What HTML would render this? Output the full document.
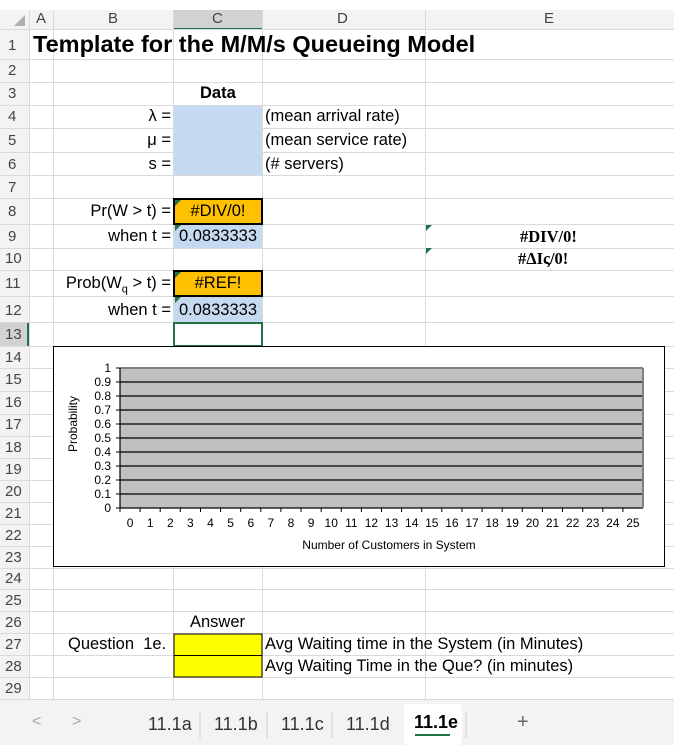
<!DOCTYPE html>
<html><head><meta charset="utf-8"><style>
body{margin:0;width:674px;height:745px;background:#fff;position:relative;overflow:hidden;font-family:"Liberation Sans",Arial,sans-serif;color:#000}
.a{position:absolute;white-space:nowrap}
.t{font-size:16.5px}
</style></head><body>
<svg class="a" style="left:0;top:0" width="674" height="745">
<rect x="0" y="0" width="674" height="10" fill="#fff"/>
<rect x="0" y="10" width="674" height="20" fill="#f3f3f3"/>
<rect x="0" y="10" width="29" height="690" fill="#f3f3f3"/>
<rect x="173" y="10" width="89" height="20" fill="#d2d2d2"/>
<line x1="173" y1="29" x2="262" y2="29" stroke="#217346" stroke-width="2"/>
<rect x="0" y="322" width="29" height="24" fill="#d2d2d2"/>
<line x1="28" y1="322" x2="28" y2="346" stroke="#217346" stroke-width="2"/>
<polygon points="14,26 25,26 25,15" fill="#b0b0b0"/>
<g stroke="#dadada" stroke-width="1">
<line x1="29.5" y1="10" x2="29.5" y2="700"/>
<line x1="53.5" y1="10" x2="53.5" y2="700"/>
<line x1="173.5" y1="10" x2="173.5" y2="700"/>
<line x1="262.5" y1="10" x2="262.5" y2="700"/>
<line x1="425.5" y1="10" x2="425.5" y2="700"/>
<line x1="0" y1="29.5" x2="674" y2="29.5"/>
<line x1="0" y1="59.5" x2="674" y2="59.5"/><line x1="0" y1="82.5" x2="674" y2="82.5"/>
<line x1="0" y1="105.5" x2="674" y2="105.5"/><line x1="0" y1="128.5" x2="674" y2="128.5"/>
<line x1="0" y1="152.5" x2="674" y2="152.5"/><line x1="0" y1="175.5" x2="674" y2="175.5"/>
<line x1="0" y1="198.5" x2="674" y2="198.5"/><line x1="0" y1="224.5" x2="674" y2="224.5"/>
<line x1="0" y1="248.5" x2="674" y2="248.5"/><line x1="0" y1="270.5" x2="674" y2="270.5"/>
<line x1="0" y1="296.5" x2="674" y2="296.5"/><line x1="0" y1="322.5" x2="674" y2="322.5"/>
<line x1="0" y1="346.5" x2="674" y2="346.5"/><line x1="0" y1="368.5" x2="674" y2="368.5"/>
<line x1="0" y1="391.5" x2="674" y2="391.5"/><line x1="0" y1="414.5" x2="674" y2="414.5"/>
<line x1="0" y1="436.5" x2="674" y2="436.5"/><line x1="0" y1="458.5" x2="674" y2="458.5"/>
<line x1="0" y1="480.5" x2="674" y2="480.5"/><line x1="0" y1="502.5" x2="674" y2="502.5"/>
<line x1="0" y1="524.5" x2="674" y2="524.5"/><line x1="0" y1="546.5" x2="674" y2="546.5"/>
<line x1="0" y1="568.5" x2="674" y2="568.5"/><line x1="0" y1="589.5" x2="674" y2="589.5"/>
<line x1="0" y1="611.5" x2="674" y2="611.5"/><line x1="0" y1="633.5" x2="674" y2="633.5"/>
<line x1="0" y1="655.5" x2="674" y2="655.5"/><line x1="0" y1="677.5" x2="674" y2="677.5"/>
<line x1="0" y1="699.5" x2="674" y2="699.5"/>
</g>
<rect x="174" y="106" width="88" height="69" fill="#c5d9f1"/>
<rect x="174" y="225" width="88" height="23" fill="#c5d9f1"/>
<rect x="174" y="297" width="88" height="25" fill="#c5d9f1"/>
<rect x="174" y="199" width="88" height="25" fill="#ffc000" stroke="#000" stroke-width="2"/>
<rect x="174" y="271" width="88" height="25" fill="#ffc000" stroke="#000" stroke-width="2"/>
<rect x="174" y="323" width="88" height="23" fill="#fff" stroke="#217346" stroke-width="2"/>
<polygon points="175,200 181,200 175,206" fill="#217346"/>
<polygon points="175,272 181,272 175,278" fill="#217346"/>
<polygon points="175,225 181,225 175,231" fill="#217346"/>
<polygon points="175,297 181,297 175,303" fill="#217346"/>
<polygon points="426,225 432,225 426,231" fill="#217346"/>
<polygon points="426,248 432,248 426,254" fill="#217346"/>
<rect x="174" y="634" width="88" height="43" fill="#ffff00" stroke="#000" stroke-width="1"/>
<line x1="174" y1="655.5" x2="262" y2="655.5" stroke="#000"/>
<rect x="53.5" y="346.5" width="611" height="220" fill="#fff" stroke="#000"/>
<rect x="120" y="368" width="523" height="140" fill="#c0c0c0"/>
<g stroke="#000" stroke-width="1.2">
<line x1="120" y1="368" x2="643" y2="368" stroke="#808080" stroke-width="2"/>
<line x1="120" y1="382" x2="643" y2="382"/><line x1="120" y1="396" x2="643" y2="396"/>
<line x1="120" y1="410" x2="643" y2="410"/><line x1="120" y1="424" x2="643" y2="424"/>
<line x1="120" y1="438" x2="643" y2="438"/><line x1="120" y1="452" x2="643" y2="452"/>
<line x1="120" y1="466" x2="643" y2="466"/><line x1="120" y1="480" x2="643" y2="480"/>
<line x1="120" y1="494" x2="643" y2="494"/>
<line x1="120" y1="508" x2="643" y2="508"/>
<line x1="120" y1="368" x2="120" y2="508"/>
</g>
<rect x="642" y="368" width="2" height="140" fill="#808080"/>
<g font-family="Liberation Sans,Arial,sans-serif" font-size="12" text-anchor="end">
<text x="111" y="372">1</text><text x="111" y="386">0.9</text><text x="111" y="400">0.8</text>
<text x="111" y="414">0.7</text><text x="111" y="428">0.6</text><text x="111" y="442">0.5</text>
<text x="111" y="456">0.4</text><text x="111" y="470">0.3</text><text x="111" y="484">0.2</text>
<text x="111" y="498">0.1</text><text x="111" y="512">0</text>
</g>
<g stroke="#000"><line x1="116" y1="368" x2="120" y2="368"/><line x1="116" y1="382" x2="120" y2="382"/><line x1="116" y1="396" x2="120" y2="396"/><line x1="116" y1="410" x2="120" y2="410"/><line x1="116" y1="424" x2="120" y2="424"/><line x1="116" y1="438" x2="120" y2="438"/><line x1="116" y1="452" x2="120" y2="452"/><line x1="116" y1="466" x2="120" y2="466"/><line x1="116" y1="480" x2="120" y2="480"/><line x1="116" y1="494" x2="120" y2="494"/><line x1="116" y1="508" x2="120" y2="508"/></g>
<g id="xt" font-family="Liberation Sans,Arial,sans-serif" font-size="12" text-anchor="middle"></g>
<text x="73" y="424" font-family="Liberation Sans,Arial,sans-serif" font-size="12" text-anchor="middle" transform="rotate(-90 73 424)" dy="4">Probability</text>
<text x="389" y="549" font-family="Liberation Sans,Arial,sans-serif" font-size="12" text-anchor="middle">Number of Customers in System</text>
<rect x="0" y="700" width="674" height="45" fill="#f3f3f3"/>
<rect x="404" y="704" width="58" height="41" rx="4" fill="#fff"/>
<line x1="415" y1="735" x2="450" y2="735" stroke="#217346" stroke-width="2"/>
<g stroke="#ccc"><line x1="200" y1="712" x2="200" y2="738"/><line x1="267" y1="712" x2="267" y2="738"/><line x1="332" y1="712" x2="332" y2="738"/><line x1="466" y1="712" x2="466" y2="738"/></g>
</svg>
<div class="a" style="left:0;top:10px;width:674px;font-size:15px;color:#444">
<span class="a" style="left:36px">A</span><span class="a" style="left:108px">B</span><span class="a" style="left:212px">C</span><span class="a" style="left:337px">D</span><span class="a" style="left:544px">E</span></div>
<div class="a" style="left:0;top:0;width:22px;font-size:15px;color:#444;text-align:center;line-height:1">
<div class="a" style="left:8px;top:38px">1</div><div class="a" style="left:8px;top:63px">2</div><div class="a" style="left:8px;top:86px">3</div><div class="a" style="left:8px;top:109px">4</div><div class="a" style="left:8px;top:133px">5</div><div class="a" style="left:8px;top:157px">6</div><div class="a" style="left:8px;top:180px">7</div><div class="a" style="left:8px;top:204px">8</div><div class="a" style="left:8px;top:229px">9</div><div class="a" style="left:5px;top:251px">10</div><div class="a" style="left:5px;top:276px">11</div><div class="a" style="left:5px;top:303px">12</div><div class="a" style="left:5px;top:327px">13</div><div class="a" style="left:5px;top:350px">14</div><div class="a" style="left:5px;top:372px">15</div><div class="a" style="left:5px;top:395px">16</div><div class="a" style="left:5px;top:417px">17</div><div class="a" style="left:5px;top:440px">18</div><div class="a" style="left:5px;top:462px">19</div><div class="a" style="left:5px;top:484px">20</div><div class="a" style="left:5px;top:506px">21</div><div class="a" style="left:5px;top:528px">22</div><div class="a" style="left:5px;top:550px">23</div><div class="a" style="left:5px;top:571px">24</div><div class="a" style="left:5px;top:593px">25</div><div class="a" style="left:5px;top:615px">26</div><div class="a" style="left:5px;top:637px">27</div><div class="a" style="left:5px;top:659px">28</div><div class="a" style="left:5px;top:681px">29</div></div>
<div class="a" style="left:33px;top:31px;font-size:23.5px;font-weight:bold">Template for the M/M/s Queueing Model</div>
<div class="a t" style="left:200px;top:84px;font-weight:bold">Data</div>
<div class="a t" style="right:503px;top:107px">λ =</div>
<div class="a t" style="right:503px;top:131px">μ =</div>
<div class="a t" style="right:503px;top:155px">s =</div>
<div class="a t" style="left:265px;top:107px">(mean arrival rate)</div>
<div class="a t" style="left:265px;top:131px">(mean service rate)</div>
<div class="a t" style="left:265px;top:155px">(# servers)</div>
<div class="a t" style="right:503px;top:202px">Pr(W &gt; t) =</div>
<div class="a t" style="left:174px;width:88px;text-align:center;top:202px">#DIV/0!</div>
<div class="a t" style="right:503px;top:227px">when t =</div>
<div class="a t" style="left:179px;top:227px">0.0833333</div>
<div class="a t" style="left:520px;top:227px;font-weight:bold;font-family:'Liberation Serif',serif">#DIV/0!</div>
<div class="a t" style="left:518px;top:249px;font-weight:bold;font-family:'Liberation Serif',serif">#ΔΙς/0!</div>
<div class="a t" style="right:503px;top:274px">Prob(W<sub style="font-size:11px">q</sub> &gt; t) =</div>
<div class="a t" style="left:174px;width:88px;text-align:center;top:274px">#REF!</div>
<div class="a t" style="right:503px;top:301px">when t =</div>
<div class="a t" style="left:179px;top:301px">0.0833333</div>
<div class="a t" style="left:190px;top:613px">Answer</div>
<div class="a t" style="left:68px;top:635px">Question&nbsp; 1e.</div>
<div class="a t" style="left:265px;top:635px">Avg Waiting time in the System (in Minutes)</div>
<div class="a t" style="left:265px;top:657px">Avg Waiting Time in the Que? (in minutes)</div>
<div class="a" style="left:32px;top:713px;font-size:16px;color:#aaa">&lt;</div>
<div class="a" style="left:72px;top:713px;font-size:16px;color:#aaa">&gt;</div>
<div class="a" style="left:148px;top:714px;font-size:18px;color:#333">11.1a</div>
<div class="a" style="left:214px;top:714px;font-size:18px;color:#333">11.1b</div>
<div class="a" style="left:281px;top:714px;font-size:18px;color:#333">11.1c</div>
<div class="a" style="left:346px;top:714px;font-size:18px;color:#333">11.1d</div>
<div class="a" style="left:414px;top:712px;font-size:18px;color:#000;font-weight:bold">11.1e</div>
<div class="a" style="left:517px;top:711px;font-size:20px;color:#666">+</div>
<script>
var g=document.getElementById('xt'),s='';
for(var i=0;i<26;i++){var x=120+523/26*(i+0.5);s+='<text x="'+x.toFixed(1)+'" y="527">'+i+'</text><line x1="'+(120+523/26*i).toFixed(1)+'" y1="508" x2="'+(120+523/26*i).toFixed(1)+'" y2="512" stroke="#000"/>';}
g.innerHTML=s;
</script>
</body></html>
